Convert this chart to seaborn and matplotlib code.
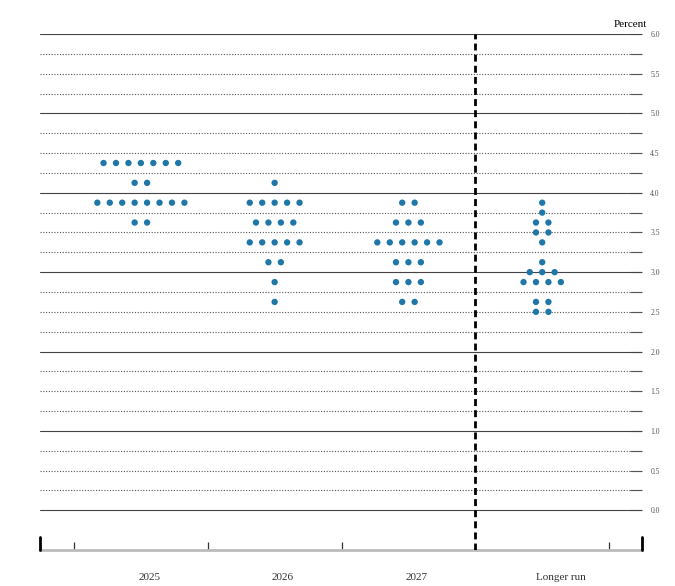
import numpy as np
import pandas as pd
import matplotlib
matplotlib.use("Agg")
import matplotlib.pyplot as plt
import seaborn as sns

# Projection horizons and the midpoint of target range held by each participant
horizons = ["2025", "2026", "2027", "Longer run"]

levels_2025 = [4.375, 4.125, 3.875, 3.625]
counts_2025 = [7, 2, 8, 2]

levels_2026 = [4.125, 3.875, 3.625, 3.375, 3.125, 2.875, 2.625]
counts_2026 = [1, 5, 4, 5, 2, 1, 1]

levels_2027 = [3.875, 3.625, 3.375, 3.125, 2.875, 2.625]
counts_2027 = [2, 3, 6, 3, 3, 2]

levels_lr = [3.875, 3.75, 3.625, 3.5, 3.375, 3.125, 3.0, 2.875, 2.625, 2.5]
counts_lr = [1, 1, 2, 2, 1, 1, 3, 4, 2, 2]

dot_color = "#1f77a8"
spacing = 0.093

sns.set_style("white")
plt.rcParams["font.family"] = ["Liberation Serif", "DejaVu Serif"]

rows = []
for i, (levels, counts) in enumerate([(levels_2025, counts_2025),
                                       (levels_2026, counts_2026),
                                       (levels_2027, counts_2027),
                                       (levels_lr, counts_lr)]):
    for lev, n in zip(levels, counts):
        for k in range(n):
            rows.append({"x": i + (k - (n - 1) / 2) * spacing, "rate": lev,
                         "horizon": horizons[i]})
df = pd.DataFrame(rows)

fig = plt.figure(figsize=(6.75, 5.86), dpi=100)
ax = fig.add_axes([40 / 675, 1 - 550 / 586, 602 / 675, 516 / 586])

# grid lines every quarter point, solid at whole numbers
for v in np.arange(0, 6.01, 0.25):
    if abs(v - round(v)) < 1e-9:
        ax.axhline(v, color="#444444", lw=0.8, zorder=1)
    else:
        ax.axhline(v, color="#555555", lw=0.8, ls=(0, (1, 1.5)), zorder=1)

sns.scatterplot(data=df, x="x", y="rate", ax=ax, color=dot_color, s=21,
                edgecolor="none", zorder=3, legend=False)

ax.axvline(2.5, color="black", lw=2, ls=(0, (2.5, 1.5)), zorder=4)

ax.set_xlim(-0.754, 3.746)
ax.set_ylim(-0.5, 6.0)

for s in ["left", "top", "right"]:
    ax.spines[s].set_visible(False)
ax.spines["bottom"].set_color("#bbbbbb")
ax.spines["bottom"].set_linewidth(2)

# x ticks: thin separators, labels placed below
ax.set_xticks([-0.5, 0.5, 1.5, 3.5])
ax.set_xticklabels([])
ax.tick_params(axis="x", direction="in", length=6, width=0.9, color="#333333",
               bottom=True)
for x0 in [0, 1]:
    ax.plot([x0, x0], [0, 0.025], transform=ax.transAxes, color="black",
            lw=2, clip_on=False, zorder=5)
label_x = [-0.02, 0.98, 1.98, 2.95]
for lx, h in zip(label_x, horizons):
    ax.text(lx, -0.045, h, transform=ax.get_xaxis_transform(), ha="left",
            va="top", fontsize=8, color="#333333")

# right-hand percent scale
ax.yaxis.tick_right()
ax.set_yticks(np.arange(0, 6.01, 0.5))
ax.set_yticks(np.arange(0.25, 6.0, 0.5), minor=True)
ax.set_yticklabels([f"{v:.1f}" for v in np.arange(0, 6.01, 0.5)])
ax.tick_params(axis="y", which="both", direction="in", length=8.5, width=0.8,
               color="#555555", labelsize=5.5, labelcolor="#555555", pad=6,
               left=False, right=True)
ax.set_xlabel("")
ax.set_ylabel("")

ax.text(1.009, 1.01, "Percent", transform=ax.transAxes, ha="right", va="bottom",
        fontsize=8, color="black")

fig.savefig("out.png", dpi=100)
